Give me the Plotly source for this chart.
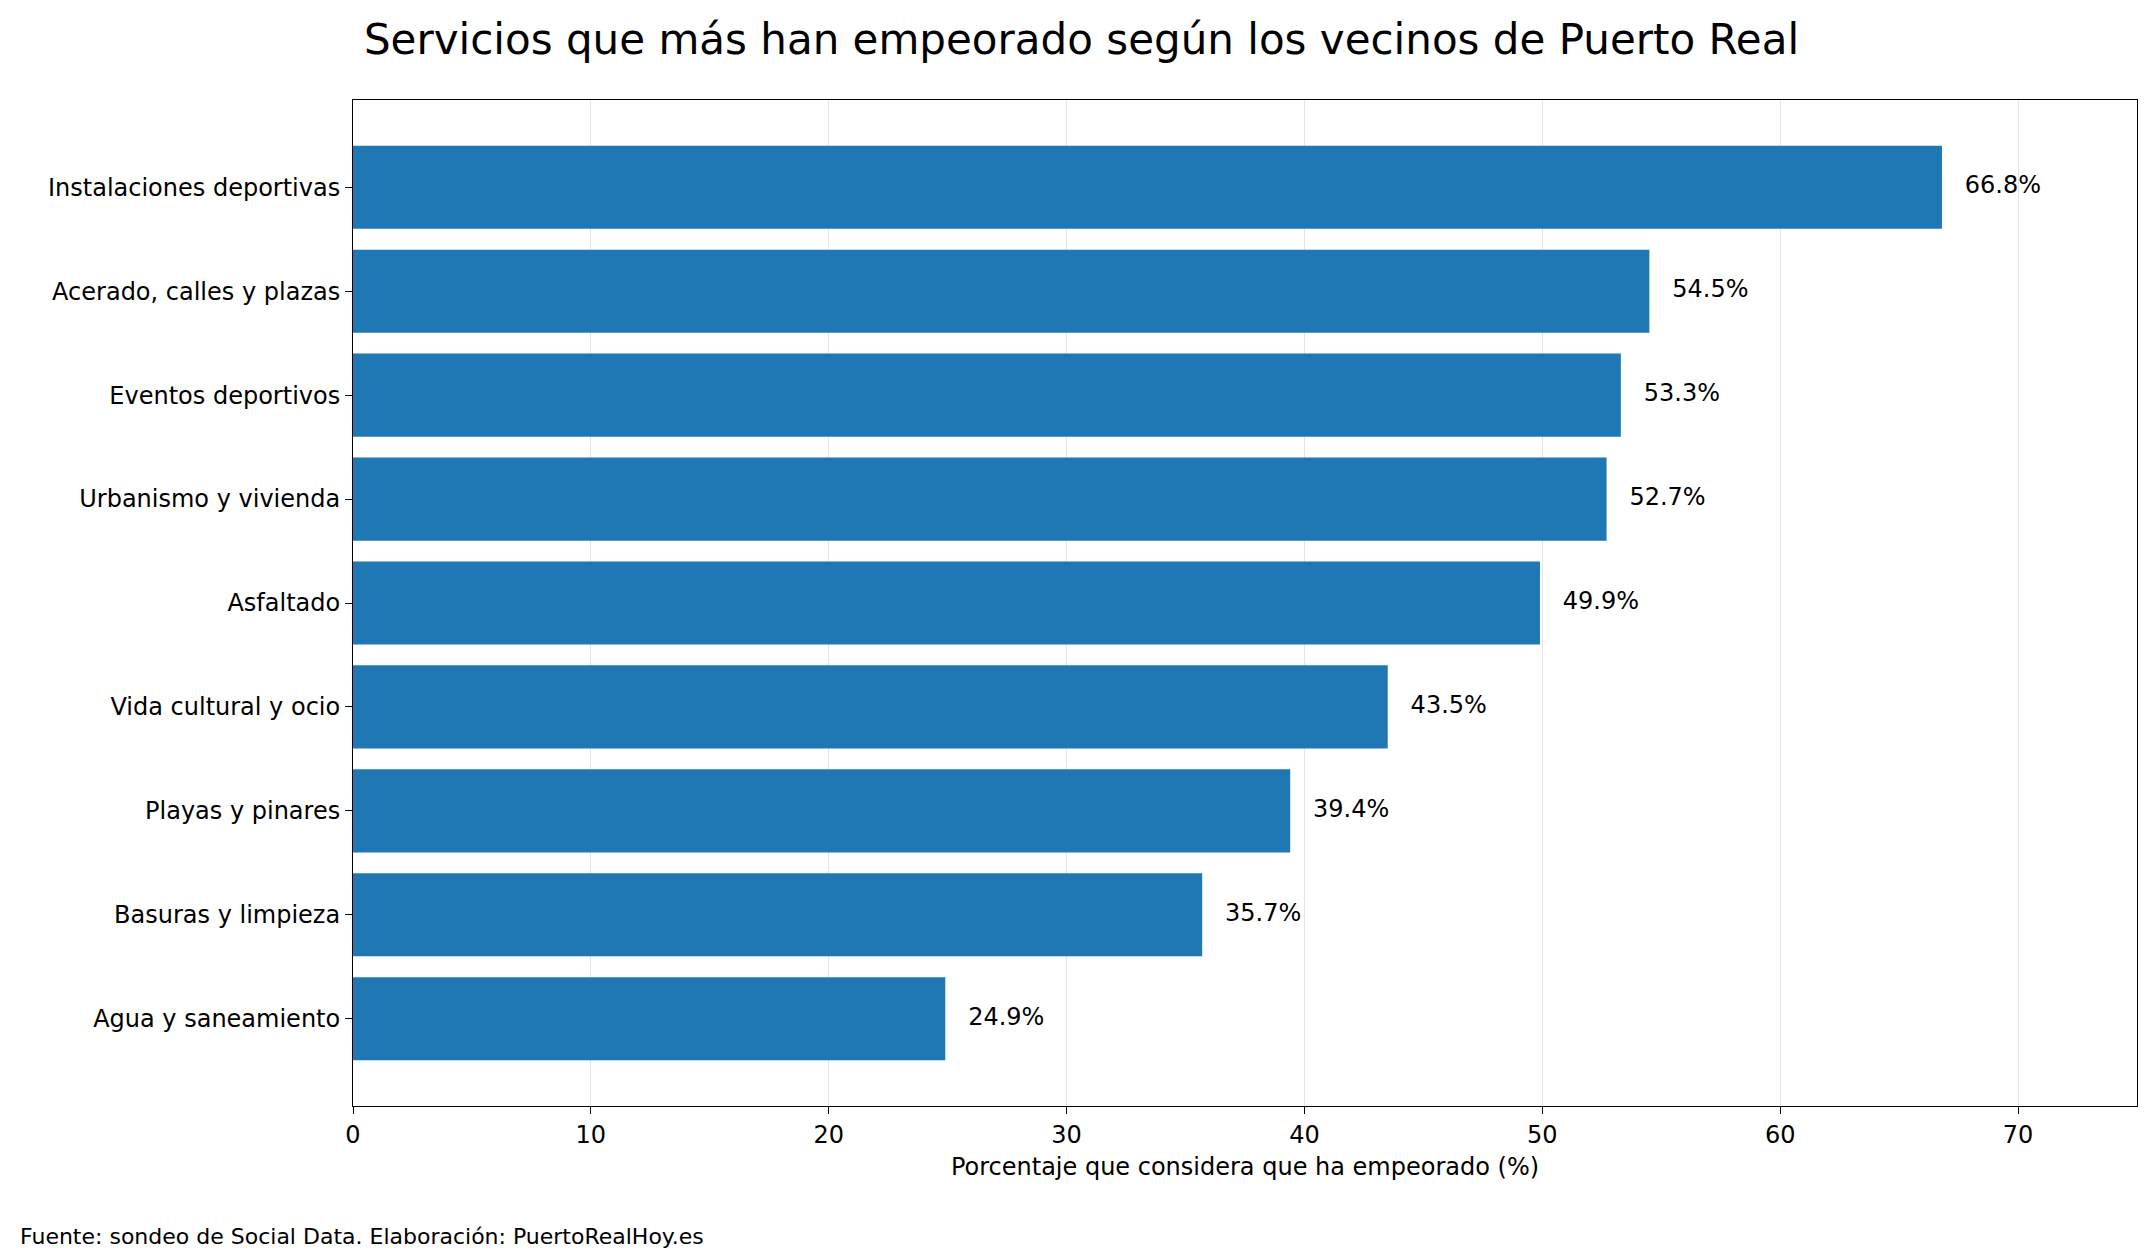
import plotly.graph_objects as go

# Survey results (percent who think the service got worse)
servicios = ['Instalaciones deportivas', 'Acerado, calles y plazas', 'Eventos deportivos',
             'Urbanismo y vivienda', 'Asfaltado', 'Vida cultural y ocio',
             'Playas y pinares', 'Basuras y limpieza', 'Agua y saneamiento']
porcentaje = [66.8, 54.5, 53.3, 52.7, 49.9, 43.5, 39.4, 35.7, 24.9]
etiquetas = ['\u00a0\u00a0\u00a0' + f'{v:.1f}%' for v in porcentaje]

font = 'DejaVu Sans'

fig = go.Figure()
fig.add_trace(go.Bar(
    x=porcentaje, y=servicios, orientation='h',
    marker=dict(color='#1f77b4', line=dict(width=0)),
    width=0.8, hoverinfo='x+y',
))
fig.add_trace(go.Scatter(
    x=porcentaje, y=servicios, mode='text', text=etiquetas,
    textposition='middle right', cliponaxis=False, hoverinfo='skip',
    textfont=dict(family=font, size=24, color='black'),
))

fig.update_layout(
    width=2147, height=1258,
    paper_bgcolor='white', plot_bgcolor='white',
    font=dict(family=font, size=24, color='black'),
    margin=dict(l=345, r=18, t=92, b=160),
    showlegend=False,
    title=dict(text='Servicios que más han empeorado según los vecinos de Puerto Real',
               x=0.5, xanchor='center', y=0.975, yanchor='middle',
               font=dict(family=font, size=42)),
    xaxis=dict(range=[0, 75], dtick=10, showgrid=True, gridcolor='#e5e5e5',
               zeroline=False, showline=True, linecolor='black', mirror=True,
               ticks='outside', ticklen=7, tickcolor='black',
               title=dict(text='Porcentaje que considera que ha empeorado (%)',
                          font=dict(size=24), standoff=10)),
    yaxis=dict(range=[8.84, -0.84], showline=True, linecolor='black', mirror=True,
               ticks='outside', ticklen=7, tickcolor='black', showgrid=False),
    annotations=[dict(text='Fuente: sondeo de Social Data. Elaboración: PuertoRealHoy.es',
                      xref='paper', yref='paper', x=-335/1784, y=-0.13,
                      xanchor='left', yanchor='middle', showarrow=False,
                      font=dict(family=font, size=22))],
)

fig.write_html('out.html')
